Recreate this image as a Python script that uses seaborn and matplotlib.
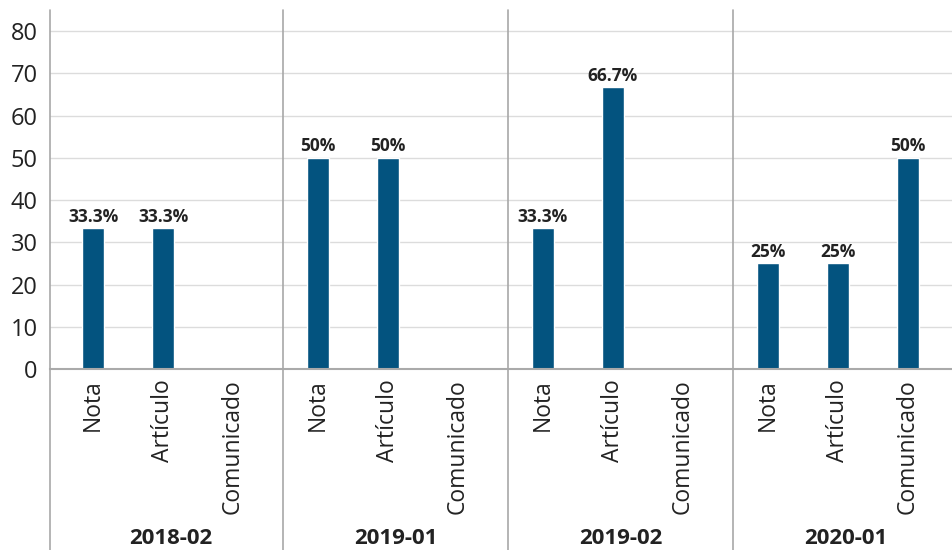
import pandas as pd
import seaborn as sns
import matplotlib.pyplot as plt

# data
periods = ["2018-02", "2019-01", "2019-02", "2020-01"]
types = ["Nota", "Artículo", "Comunicado"]
nota = [33.3, 50, 33.3, 25]
articulo = [33.3, 50, 66.7, 25]
comunicado = [None, None, None, 50]

yticks = [0, 10, 20, 30, 40, 50, 60, 70, 80]

sns.set_theme(style="white")
plt.rcParams["font.family"] = ["Open Sans", "DejaVu Sans"]

bar_color = "#03537f"
text_color = "#222222"
group_w = 3.214  # width of one period block in slot units
x0 = -0.114      # small pad before the first block

rows = []
for g, p in enumerate(periods):
    for i, (t, vals) in enumerate(zip(types, [nota, articulo, comunicado])):
        rows.append({"period": p, "type": t, "x": g * group_w + 0.5 + i, "value": vals[g]})
df = pd.DataFrame(rows)

fig = plt.figure(figsize=(9.53, 5.5), dpi=100)
ax = fig.add_axes([0.0525, 0.329, 0.9475, 0.6527])

# grid first so bars sit on top
for y in yticks[1:]:
    ax.axhline(y, color="#dcdcdc", lw=1, zorder=0)

plot_df = df.dropna(subset=["value"])
sns.barplot(data=plot_df, x="x", y="value", native_scale=True, color=bar_color,
            width=0.314, saturation=1, ax=ax, zorder=2, err_kws={"linewidth": 0})

# value labels
for _, r in plot_df.iterrows():
    ax.annotate(f"{r['value']:g}%", (r["x"], r["value"]), xytext=(0, 2),
                textcoords="offset points", ha="center", va="bottom",
                fontsize=12.5, fontweight="bold", color=text_color)

ax.set_xlim(x0, x0 + 12.9)
ax.set_ylim(0, 85)
ax.set_yticks(yticks)
ax.set_yticklabels([str(v) for v in yticks], fontsize=17, color=text_color)
ax.set_xticks(df["x"])
ax.set_xticklabels(df["type"], rotation=90, fontsize=16.5, color=text_color, va="top")
ax.tick_params(axis="x", length=0, pad=7)
ax.tick_params(axis="y", length=0, pad=9)
ax.set_xlabel("")
ax.set_ylabel("")

for s in ["top", "right", "left"]:
    ax.spines[s].set_visible(False)
ax.spines["bottom"].set_color("#aaaaaa")
ax.spines["bottom"].set_linewidth(1.5)

# left line and period separators, then period labels
trans = ax.get_xaxis_transform()
for xs in [x0] + [g * group_w for g in range(1, len(periods) + 1)]:
    ax.plot([xs, xs], [-0.51, 1], transform=trans, color="#a8a8a8",
            lw=1.2, clip_on=False, zorder=3)
for g, p in enumerate(periods):
    ax.text(g * group_w + group_w / 2, -0.472, p, transform=trans, ha="center",
            va="center", fontsize=16, fontweight="bold", color=text_color)

fig.savefig("out.png", dpi=100)
